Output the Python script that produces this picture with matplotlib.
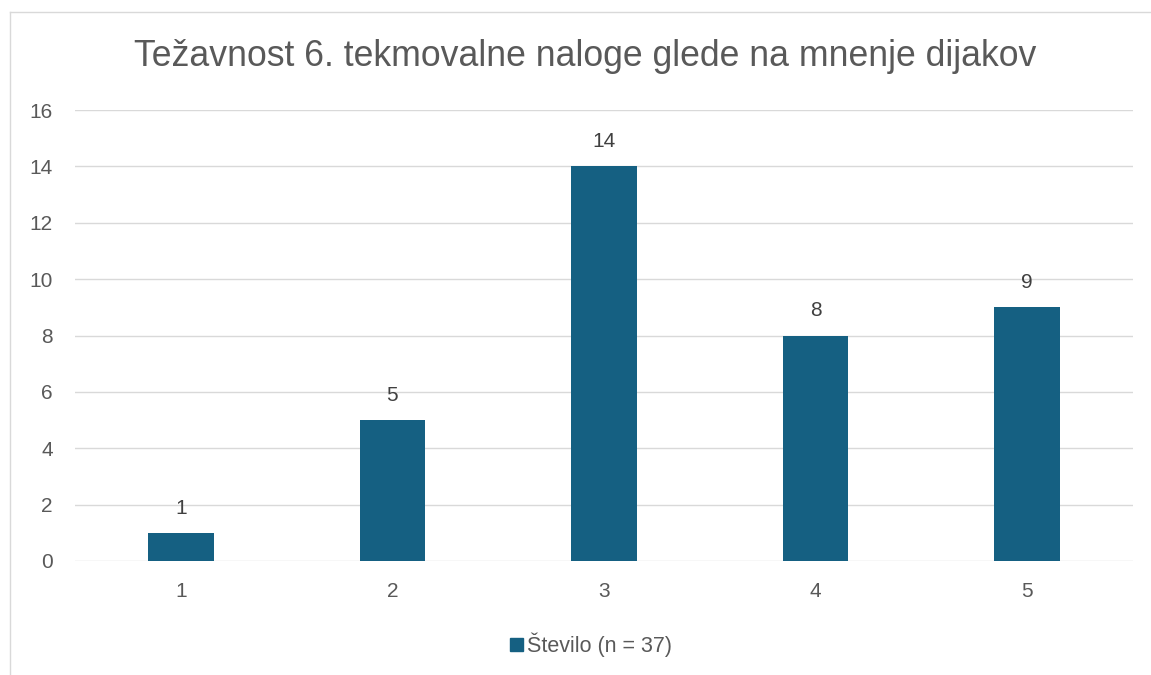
import numpy as np
import matplotlib
matplotlib.use("Agg")
from matplotlib import pyplot as plt
from matplotlib.patches import Patch

categories = ["1", "2", "3", "4", "5"]
counts = [1, 5, 14, 8, 9]
series_name = "Število (n = 37)"
title = "Težavnost 6. tekmovalne naloge glede na mnenje dijakov"
yticks = [0, 2, 4, 6, 8, 10, 12, 14, 16]

bar_color = "#156082"
text_color = "#595959"

plt.rcParams["font.family"] = ["Liberation Sans", "DejaVu Sans"]

fig = plt.figure(figsize=(11.51, 6.75), dpi=100)
ax = fig.add_axes([75 / 1151, 1 - 561 / 675, (1133 - 75) / 1151, (561 - 110) / 675])

x = np.arange(len(categories))
ax.bar(x, counts, width=0.31, color=bar_color, zorder=3)
for xi, v in zip(x, counts):
    ax.annotate(str(v), (xi, v), xytext=(0, 11), textcoords="offset points",
                ha="center", va="bottom", fontsize=15, color="#404040")

ax.set_xlim(-0.5, len(categories) - 0.5)
ax.set_ylim(0, 16)
ax.set_xticks(x)
ax.set_xticklabels(categories)
ax.set_yticks(yticks)
ax.tick_params(axis="both", length=0, labelsize=15, labelcolor=text_color)
ax.tick_params(axis="x", pad=15)
ax.tick_params(axis="y", pad=16)
ax.grid(axis="y", color="#D9D9D9", linewidth=1, zorder=0)
for s in ax.spines.values():
    s.set_visible(False)

fig.text(585 / 1151, 1 - 57 / 675, title, ha="center", va="center", fontsize=25.7, color=text_color)

fig.legend(handles=[Patch(color=bar_color, label=series_name)],
           loc="center", bbox_to_anchor=(591 / 1151, 1 - 645 / 675),
           frameon=False, fontsize=15.5, handlelength=0.6, handleheight=0.6,
           handletextpad=0.15, labelcolor=text_color)

# chart area border (left and top edges visible)
fig.add_artist(plt.Line2D([10 / 1151, 10 / 1151], [0, 1 - 12 / 675], transform=fig.transFigure, color="#D9D9D9", lw=1))
fig.add_artist(plt.Line2D([10 / 1151, 1], [1 - 12 / 675, 1 - 12 / 675], transform=fig.transFigure, color="#D9D9D9", lw=1))

fig.savefig("out.png", dpi=100)
